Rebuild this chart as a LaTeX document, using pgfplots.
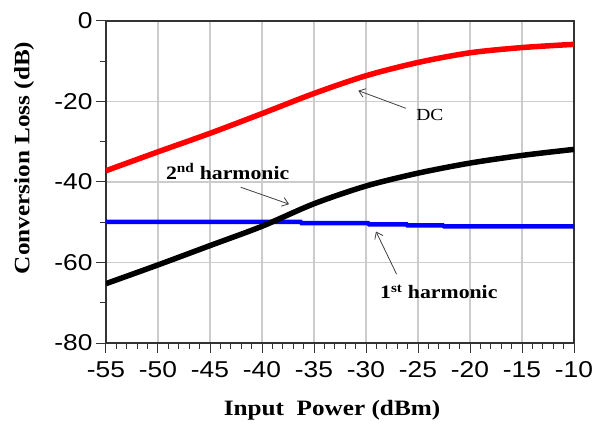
\documentclass[border=0pt]{standalone}
\usepackage{pgfplots}
\pgfplotsset{compat=1.18}
\usepackage{fontspec}
\setmainfont{Liberation Serif}[FakeStretch=1.15]
\newfontfamily\tickfont{Liberation Sans}[FakeStretch=1.15]
\usetikzlibrary{arrows.meta}
\begin{document}
\begin{tikzpicture}
\begin{axis}[
  at={(0,0)}, anchor=south west,
  scale only axis, width=468bp, height=322bp,
  xmin=-55, xmax=-10, ymin=-80, ymax=0,
  xtick={-55,-50,...,-10}, ytick={-80,-60,...,0},
  xtick pos=bottom, ytick pos=left,
  minor x tick num=4, minor y tick num=1,
  tick align=outside, major tick length=10bp, minor tick length=6bp,
  xmajorgrids, ymajorgrids,
  grid style={color=black!20, line width=1.2bp},
  axis line style={color=black!80, line width=1.2bp},
  tick style={color=black!80, line width=1bp},
  /pgf/number format/assume math mode=true,
  xticklabel style={font=\tickfont\fontsize{23}{27}\selectfont, yshift=-5bp},
  yticklabel style={font=\tickfont\fontsize{23}{27}\selectfont},
  xlabel={\bfseries Input\ \ Power (dBm)},
  ylabel={\bfseries Conversion Loss (dB)},
  xlabel style={font=\fontsize{22}{26}\selectfont, at={(axis description cs:0.483,0)}, anchor=center, yshift=-67bp},
  ylabel style={font=\fontsize{22}{26}\selectfont, at={(axis description cs:-0.175,0.575)}, anchor=center},
]
% 1st harmonic
\addplot[blue, line width=4.5bp] coordinates {
(-55,-49.9) (-36.3,-49.9) (-36.2,-50.2) (-29.8,-50.2) (-29.7,-50.5) (-26.1,-50.5)
(-26.0,-50.8) (-22.6,-50.8) (-22.5,-51.0) (-10,-51.0)
};
% 2nd harmonic
\addplot[black, line width=5.5bp, smooth] coordinates {
(-55,-65.25) (-50,-60.6) (-45,-55.8) (-40,-51.0) (-35,-45.4) (-30,-41.0)
(-25,-37.8) (-20,-35.3) (-15,-33.4) (-10,-31.9)
};
% DC
\addplot[red, line width=5.5bp, smooth] coordinates {
(-55,-37.2) (-50,-32.5) (-45,-27.9) (-40,-23.0) (-35,-18.0) (-30,-13.6)
(-25,-10.3) (-20,-7.9) (-15,-6.6) (-10,-5.8)
};
\node[font=\fontsize{17}{20}\selectfont] at (axis cs:-23.85,-23.35) {DC};
\draw[black!75, line width=0.8bp, -{Straight Barb[length=6bp,width=9bp]}] (axis cs:-26.15,-21.7) -- (axis cs:-30.74,-17.3);
\node[font=\bfseries\fontsize{19}{22}\selectfont] at (axis cs:-43.3,-37.4) {2\textsuperscript{nd} harmonic};
\draw[black!75, line width=0.8bp, -{Straight Barb[length=6bp,width=9bp]}] (axis cs:-42.05,-41.3) -- (axis cs:-37.4,-45.5);
\node[font=\bfseries\fontsize{19}{22}\selectfont] at (axis cs:-23.0,-67.25) {1\textsuperscript{st} harmonic};
\draw[black!75, line width=0.8bp, -{Straight Barb[length=6bp,width=9bp]}] (axis cs:-27.06,-62.9) -- (axis cs:-29.04,-52.3);
\end{axis}
\pgfresetboundingbox
\path[use as bounding box] (-106bp,-86bp) rectangle (489bp,343bp);
\end{tikzpicture}
\end{document}
